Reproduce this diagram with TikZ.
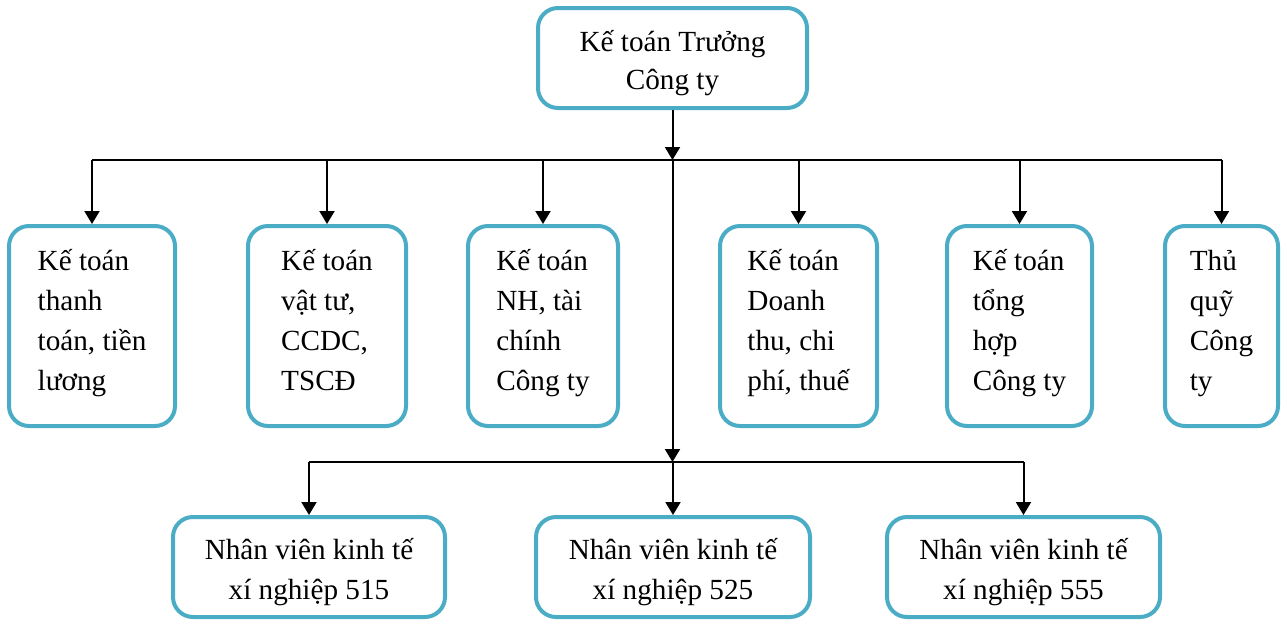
\documentclass[tikz,border=0pt]{standalone}
\usepackage{fontspec}
\setmainfont{Liberation Serif}
\usepackage{xcolor}
\usepackage{tikz}
\usetikzlibrary{calc,arrows.meta}
\definecolor{frame}{HTML}{4BACC6}
\newcommand{\lift}{\rule{0pt}{16pt}}
\tikzset{
  box/.style={draw=frame, line width=2pt, rounded corners=10pt, fill=white,
    font=\fontsize{14.6}{20}\selectfont, inner sep=0pt},
  topbox/.style={box, align=center, minimum height=50pt,
    font=\fontsize{14.6}{19}\selectfont},
  staff/.style={box, align=left, minimum height=100pt, execute at end node=\strut},
  unit/.style={box, align=center, minimum height=50pt},
  link/.style={draw=black, line width=1pt},
  arr/.style={link, -{Triangle[length=6.5pt,width=7.5pt]}}
}

\begin{document}
\begin{tikzpicture}[x=0.5pt,y=-0.5pt]
  \useasboundingbox (0,0) rectangle (1284,621);

  \node[topbox, minimum width=134.5pt] (top) at (672.5,58) {\lift Kế toán Trưởng\\Công ty};

  % accountants
  \node[staff, minimum width=83pt]   (k1) at (92,326)     {Kế toán\\thanh\\toán, tiền\\lương};
  \node[staff, minimum width=79pt]   (k2) at (327,326)    {Kế toán\\vật tư,\\CCDC,\\TSCĐ};
  \node[staff, minimum width=75pt]   (k3) at (543,326)    {Kế toán\\NH, tài\\chính\\Công ty};
  \node[staff, minimum width=78.5pt] (k4) at (798.5,326)  {Kế toán\\Doanh\\thu, chi\\phí, thuế};
  \node[staff, minimum width=72.5pt] (k5) at (1019.5,326) {Kế toán\\tổng\\hợp\\Công ty};
  \node[staff, minimum width=56.5pt] (k6) at (1221.5,326) {Thủ\\quỹ\\Công\\ty};

  % economic staff
  \node[unit, minimum width=136pt]   (n1) at (309,567)    {\lift Nhân viên kinh tế\\xí nghiệp 515};
  \node[unit, minimum width=137pt]   (n2) at (673,567)    {\lift Nhân viên kinh tế\\xí nghiệp 525};
  \node[unit, minimum width=136.5pt] (n3) at (1023.5,567) {\lift Nhân viên kinh tế\\xí nghiệp 555};

  \coordinate (bus) at ($(top.south |- 0,160)$);
  \coordinate (bus2) at ($(top.south |- 0,462)$);

  \draw[arr] (top.south) -- (bus);
  \draw[link] (k1.north |- bus) -- (k6.north |- bus);
  \foreach \k in {k1,k2,k3,k4,k5,k6}
    \draw[arr] (\k.north |- bus) -- (\k.north);

  \draw[arr] (bus) -- (bus2);
  \draw[link] (n1.north |- bus2) -- (n3.north |- bus2);
  \foreach \n in {n1,n2,n3}
    \draw[arr] (\n.north |- bus2) -- (\n.north);
\end{tikzpicture}
\end{document}
